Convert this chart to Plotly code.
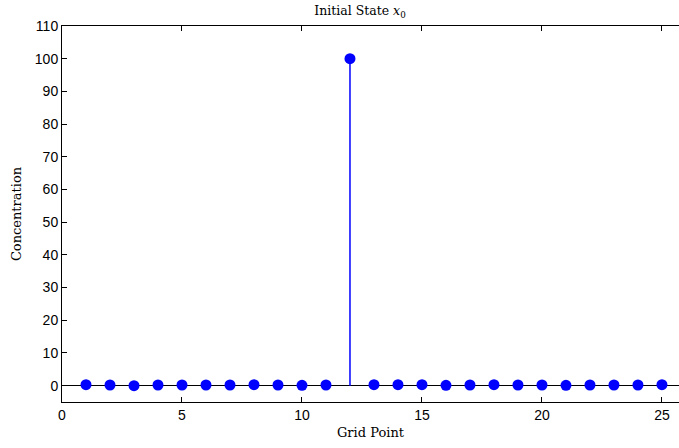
import plotly.graph_objects as go

# Grid points and initial concentration at each point
grid_points = list(range(1, 26))
concentration = [0.3, 0.2, 0.0, 0.2, 0.2, 0.2, 0.2, 0.3, 0.2, 0.1, 0.2, 100.0,
                 0.3, 0.3, 0.3, 0.1, 0.2, 0.3, 0.2, 0.2, 0.1, 0.2, 0.2, 0.2, 0.3]

x_ticks = [0, 5, 10, 15, 20, 25]
y_ticks = list(range(0, 111, 10))

# Stem segments from the baseline to each value
stem_x, stem_y = [], []
for gx, cy in zip(grid_points, concentration):
    stem_x += [gx, gx, None]
    stem_y += [0, cy, None]

fig = go.Figure()
fig.add_trace(go.Scatter(x=stem_x, y=stem_y, mode="lines",
                         line=dict(color="#0000ff", width=1.5),
                         hoverinfo="skip", showlegend=False))
fig.add_trace(go.Scatter(x=grid_points, y=concentration, mode="markers",
                         marker=dict(color="#0000ff", size=11, line=dict(width=0)),
                         showlegend=False))

serif = "DejaVu Serif, Liberation Serif, serif"
sans = "Liberation Sans, Arial, sans-serif"

fig.update_layout(
    width=679, height=448,
    margin=dict(l=62, r=0, t=26, b=46),
    paper_bgcolor="white", plot_bgcolor="white",
    title=dict(text="Initial State <i>x</i><sub>0</sub>", x=360 / 679, xref="container",
               xanchor="center", y=1 - 11 / 448, yanchor="middle",
               font=dict(family=serif, size=12.5, color="black")),
    xaxis=dict(range=[0, 25.71], tickvals=x_ticks, ticks="inside", ticklen=5,
               tickcolor="black", showline=True, linecolor="black", linewidth=1,
               mirror="ticks", showgrid=False, zeroline=False,
               tickfont=dict(family=sans, size=14, color="black"),
               title=dict(text="Grid Point", standoff=6,
                          font=dict(family=serif, size=13, color="black"))),
    yaxis=dict(range=[-5, 110], tickvals=y_ticks, ticks="inside", ticklen=5,
               tickcolor="black", showline=True, linecolor="black", linewidth=1,
               mirror=False, showgrid=False, zeroline=True,
               zerolinecolor="black", zerolinewidth=1,
               tickfont=dict(family=sans, size=14, color="black"),
               title=dict(text="Concentration", standoff=10,
                          font=dict(family=serif, size=13, color="black"))),
)

fig.write_html("out.html")
